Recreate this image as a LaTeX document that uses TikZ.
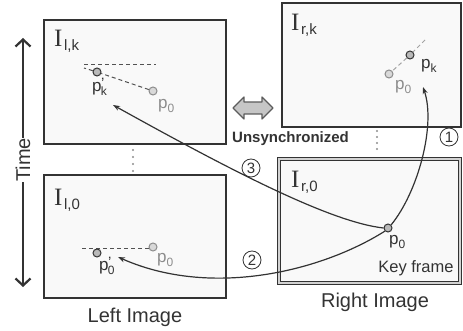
\documentclass[tikz,border=0pt]{standalone}
\usepackage{fontspec}
\setmainfont{Liberation Sans}
\newfontfamily\serifI{Liberation Serif}
\usetikzlibrary{arrows.meta}
\definecolor{dk}{HTML}{333333}
\definecolor{gh}{HTML}{8C8C8C}
\definecolor{boxfill}{HTML}{F9F9F9}
\newcommand{\fs}[1]{\fontsize{#1}{#1}\selectfont}
\newcommand{\Ilab}[1]{{\serifI\fs{25}I}\kern1.5pt\raisebox{-4pt}{\fs{15}#1}}
\newcommand{\plab}[1]{\fs{17}p\raisebox{-4pt}{\fs{12}#1}}
\newcommand{\pplab}[1]{\fs{17}p\kern-0.5pt\raisebox{3pt}{\fs{15}\textquoteright}\kern-3.5pt\raisebox{-4pt}{\fs{12}#1}}
\begin{document}
\begin{tikzpicture}[x=1pt,y=-1pt,
  imgbox/.style={rectangle,draw=dk,line width=1.8pt,fill=boxfill,inner sep=0pt},
  keybox/.style={rectangle,draw=dk,line width=1.2pt,double=gray!35,double distance=2pt,fill=boxfill,inner sep=0pt},
  ilab/.style={anchor=base west,inner sep=0pt,text=dk},
  plabel/.style={anchor=base west,inner sep=0pt,text=dk},
  glabel/.style={anchor=base west,inner sep=0pt,text=gh},
  pt/.style={circle,draw=dk,fill=gray!55,line width=1pt,minimum size=8pt,inner sep=0pt},
  gpt/.style={circle,draw=gh,fill=gray!30,line width=1pt,minimum size=8pt,inner sep=0pt},
  dashline/.style={draw=dk!85,line width=1pt,dash pattern=on 4pt off 3pt},
  gdashline/.style={draw=gh!80,line width=1pt,dash pattern=on 4pt off 3pt},
  conn/.style={draw=dk,line width=1.2pt,-{Stealth[length=7pt,width=5pt]}},
  tarrow/.style={draw=dk,line width=2.2pt,-{Straight Barb[length=7pt,width=15pt]}},
  numc/.style={circle,draw=dk,line width=0.8pt,minimum size=18pt,inner sep=0pt,font=\fs{15},text=dk},
  txt/.style={inner sep=0pt,text=dk}]
\useasboundingbox (0,0) rectangle (463,331);

% image boxes
\node[imgbox,minimum width=182pt,minimum height=124pt] (lk) at (135,82) {};
\node[imgbox,minimum width=182pt,minimum height=123pt] (l0) at (135,236.5) {};
\node[imgbox,minimum width=179pt,minimum height=124pt] (rk) at (371.5,65) {};
\node[keybox,minimum width=181pt,minimum height=124pt] (r0) at (369.5,221) {};

% box labels
\node[ilab] (tlk) at (54,47) {\Ilab{l,k}};
\node[ilab] (tl0) at (54,206) {\Ilab{l,0}};
\node[ilab] (trk) at (291,31) {\Ilab{r,k}};
\node[ilab] (tr0) at (291,188) {\Ilab{r,0}};

% time axis
\node[rotate=90,inner sep=3pt,txt,font=\fs{20}] (time) at (23,160) {Time};
\coordinate (ttop) at (23,38);
\coordinate (tbot) at (23,287);
\draw[tarrow] (time.east) -- (ttop);
\draw[tarrow] (time.west) -- (tbot);

% unsynchronized double arrow
\draw[fill=gray!45,draw=dk!80,line width=1.2pt,line join=round]
  (233,108) -- (244,97) -- (244,102) -- (262,102) -- (262,97) -- (273,108)
  -- (262,119) -- (262,114) -- (244,114) -- (244,119) -- cycle;
\node[txt,anchor=base west,font=\bfseries\fs{15}] (uns) at (232,143) {Unsynchronized};

% vertical dots
\foreach \y in {150,157,164,171} \fill[gh] (133,\y) circle (1.1);
\foreach \y in {131,137,143,149} \fill[gh] (377,\y) circle (1.1);

% left top frame content
\coordinate (hlk1) at (84,65);
\coordinate (hlk2) at (156,65);
\coordinate (dlk) at (84,68);
\draw[dashline] (hlk1) -- (hlk2);
\node[gpt] (p0lk) at (153,91) {};
\node[pt] (pklk) at (97,72) {};
\draw[dashline] (p0lk) -- (pklk) -- (dlk);
\node[plabel] (lpklk) at (92,92) {\pplab{k}};
\node[glabel] (lp0lk) at (158,109) {\plab{0}};

% right top frame content
\coordinate (drk) at (425,40);
\node[gpt] (p0rk) at (389,74) {};
\node[pt] (pkrk) at (410,55) {};
\draw[gdashline] (drk) -- (pkrk) -- (p0rk);
\node[plabel] (lpkrk) at (421,69) {\plab{k}};
\node[glabel] (lp0rk) at (395,90) {\plab{0}};

% left bottom frame content
\coordinate (hl01) at (82,248);
\coordinate (hl02) at (150,248);
\draw[dashline] (hl01) -- (hl02);
\node[gpt] (p0l0) at (153,247) {};
\node[pt] (pkl0) at (97,253) {};
\node[plabel] (lpkl0) at (99,270) {\pplab{0}};
\node[glabel] (lp0l0) at (157,262) {\plab{0}};

% right bottom (key frame) content
\node[pt] (p0r0) at (388,228) {};
\node[plabel] (lp0r0) at (389,244) {\plab{0}};
\node[txt,anchor=base,font=\fs{16.5}] (key) at (416,272) {Key frame};

% captions
\node[txt,anchor=base,font=\fs{20}] (capl) at (135,322) {Left Image};
\node[txt,anchor=base,font=\fs{20}] (capr) at (375,307) {Right Image};

% connectors
\coordinate (a1) at (423,87);
\coordinate (a2) at (118,257);
\coordinate (a3) at (113,105);
\draw[conn] (p0r0.north east) .. controls (418,192) and (436,125) .. (a1);
\draw[conn] (p0r0.south west) .. controls (320,272) and (210,298) .. (a2);
\draw[conn] (p0r0.west) .. controls (330,222) and (230,170) .. (a3);

% step numbers
\node[numc] (n1) at (449,137) {1};
\node[numc] (n2) at (252,260) {2};
\node[numc] (n3) at (251,168) {3};
\end{tikzpicture}
\end{document}
